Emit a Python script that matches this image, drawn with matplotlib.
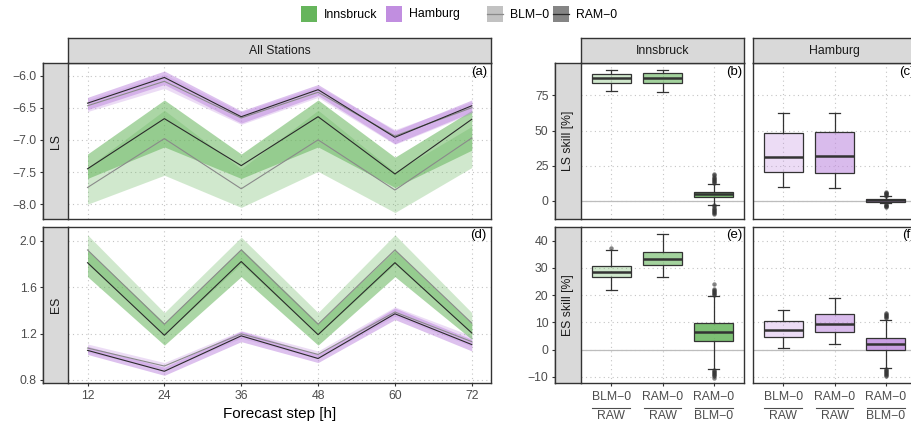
import matplotlib
matplotlib.use("Agg")
import matplotlib.pyplot as plt
from matplotlib.patches import Rectangle
from matplotlib.lines import Line2D
from matplotlib.colors import to_rgba
import numpy as np

plt.rcParams['font.family'] = ['Liberation Sans', 'DejaVu Sans']

# ---------------- data ----------------
steps = [12, 24, 36, 48, 60, 72]

# LS, Innsbruck
inn_ls_ram = [-7.45, -6.67, -7.40, -6.64, -7.53, -6.68]
inn_ls_ram_lo = [-7.60, -7.11, -7.60, -7.11, -7.74, -7.16]
inn_ls_ram_hi = [-7.22, -6.38, -7.22, -6.38, -7.27, -6.54]
inn_ls_blm = [-7.74, -6.98, -7.76, -7.00, -7.78, -6.97]
inn_ls_blm_lo = [-8.00, -7.55, -8.05, -7.49, -8.13, -7.43]
inn_ls_blm_hi = [-7.43, -6.54, -7.45, -6.54, -7.50, -6.79]
# LS, Hamburg
ham_ls_ram = [-6.43, -6.03, -6.64, -6.22, -6.96, -6.47]
ham_ls_ram_lo = [-6.53, -6.14, -6.74, -6.31, -7.06, -6.57]
ham_ls_ram_hi = [-6.34, -5.93, -6.55, -6.14, -6.86, -6.38]
ham_ls_blm = [-6.47, -6.09, -6.66, -6.26, -6.94, -6.50]
ham_ls_blm_lo = [-6.56, -6.20, -6.76, -6.34, -7.07, -6.59]
ham_ls_blm_hi = [-6.38, -5.98, -6.57, -6.17, -6.84, -6.41]
# ES, Innsbruck
inn_es_ram = [1.81, 1.185, 1.82, 1.19, 1.81, 1.205]
inn_es_ram_lo = [1.69, 1.10, 1.69, 1.10, 1.69, 1.15]
inn_es_ram_hi = [1.92, 1.29, 1.93, 1.29, 1.92, 1.29]
inn_es_blm = [1.92, 1.28, 1.92, 1.28, 1.92, 1.29]
inn_es_blm_lo = [1.80, 1.19, 1.80, 1.19, 1.80, 1.20]
inn_es_blm_hi = [2.05, 1.38, 2.03, 1.38, 2.05, 1.38]
# ES, Hamburg
ham_es_ram = [1.055, 0.875, 1.18, 0.985, 1.37, 1.105]
ham_es_ram_lo = [1.02, 0.84, 1.13, 0.95, 1.32, 1.05]
ham_es_ram_hi = [1.09, 0.91, 1.22, 1.02, 1.42, 1.15]
ham_es_blm = [1.075, 0.92, 1.197, 1.02, 1.385, 1.13]
ham_es_blm_lo = [1.04, 0.885, 1.16, 0.985, 1.35, 1.09]
ham_es_blm_hi = [1.11, 0.95, 1.225, 1.05, 1.43, 1.18]

# skill box plots: (whislo, q1, median, q3, whishi)
comp_num = ["BLM\u22120", "RAM\u22120", "RAM\u22120"]
comp_den = ["RAW", "RAW", "BLM\u22120"]

inn_ls_box = [(78.0, 83.8, 87.7, 90.5, 93.1), (77.6, 84.1, 87.7, 91.0, 93.1), (-2.6, 2.4, 4.6, 6.5, 11.9)]
inn_ls_fliers = [[], [], [12.5, 13.3, 14.1, 14.9, 15.7, 16.5, 17.3, 18.1, 18.8,
                         -3.2, -4.0, -4.8, -5.6, -6.4, -7.2, -8.0, -8.8, -9.5]]
ham_ls_box = [(9.6, 20.8, 31.5, 48.3, 62.6), (9.4, 20.0, 32.0, 49.0, 62.6), (-1.8, -0.7, 0.5, 1.4, 3.2)]
ham_ls_fliers = [[], [], [3.8, 4.3, 4.8, 5.3, 5.8, 6.3, -2.4, -2.9, -3.4, -3.9, -4.4]]
inn_es_box = [(22.0, 26.7, 28.6, 30.6, 36.5), (26.6, 31.1, 33.1, 35.8, 42.3), (-7.0, 3.2, 6.5, 9.8, 19.6)]
inn_es_fliers = [[37.4], [], [20.0, 20.4, 20.8, 21.2, 21.6, 22.0, 22.4, 24.2,
                             -7.4, -7.8, -8.2, -8.6, -9.0, -9.4, -9.8, -10.2]]
ham_es_box = [(0.8, 4.7, 7.4, 10.4, 14.7), (2.1, 6.4, 9.3, 13.1, 19.0), (-6.7, 0.0, 2.2, 4.3, 11.0)]
ham_es_fliers = [[], [], [11.5, 11.9, 12.3, 12.7, 13.1, 13.5,
                          -7.0, -7.4, -7.8, -8.2, -8.6, -9.0, -9.4, -9.8]]

# ---------------- styling ----------------
W, H = 911, 425
GREEN = '#66b55c'
PURPLE = '#c18ee0'
STRIP = '#d9d9d9'
FRAME = '#333333'
TICKC = '#4d4d4d'
GRIDC = '#c4c4c4'
FS = 8.8

fig = plt.figure(figsize=(W / 100, H / 100), dpi=100)


def rect(x0, y0, x1, y1):
    return [x0 / W, 1 - y1 / H, (x1 - x0) / W, (y1 - y0) / H]


def style_panel(ax):
    ax.set_facecolor('white')
    for s in ax.spines.values():
        s.set_color(FRAME)
        s.set_linewidth(1.0)
    ax.grid(True, color=GRIDC, linestyle=(0, (1, 3)), linewidth=0.8)
    ax.set_axisbelow(True)
    ax.tick_params(colors=FRAME, labelcolor=TICKC, labelsize=FS, length=2.2,
                   width=0.8, pad=2.5)


def strip(box, text, rotation=0):
    s = fig.add_axes(rect(*box))
    s.set_facecolor(STRIP)
    s.set_xticks([])
    s.set_yticks([])
    for sp in s.spines.values():
        sp.set_color(FRAME)
        sp.set_linewidth(1.0)
    s.text(0.5, 0.5, text, ha='center', va='center', rotation=rotation,
           fontsize=FS, color='#1a1a1a', transform=s.transAxes)
    return s


def tag(ax, s):
    ax.text(0.99, 0.985, s, transform=ax.transAxes, ha='right', va='top',
            fontsize=9.5, color='black', zorder=10)


# pixel geometry
LX0, LX1 = 68.3, 491.0
RX = [(580.7, 744.3), (752.7, 916.3)]
TOP_Y = (63.3, 219.0)
BOT_Y = (226.7, 383.0)

# ---------------- left panels ----------------
axA = fig.add_axes(rect(LX0, TOP_Y[0], LX1, TOP_Y[1]))
axD = fig.add_axes(rect(LX0, BOT_Y[0], LX1, BOT_Y[1]))


def draw_lines(ax, groups):
    for (m_blm, lo_blm, hi_blm, m_ram, lo_ram, hi_ram, col) in groups:
        ax.fill_between(steps, lo_blm, hi_blm, color=col, alpha=0.3, lw=0)
    for (m_blm, lo_blm, hi_blm, m_ram, lo_ram, hi_ram, col) in groups:
        ax.fill_between(steps, lo_ram, hi_ram, color=col, alpha=0.55, lw=0)
    for (m_blm, lo_blm, hi_blm, m_ram, lo_ram, hi_ram, col) in groups:
        ax.plot(steps, m_blm, color='#8a8a8a', lw=0.8)
        ax.plot(steps, m_ram, color='#2b2b2b', lw=0.8)


draw_lines(axA, [
    (inn_ls_blm, inn_ls_blm_lo, inn_ls_blm_hi, inn_ls_ram, inn_ls_ram_lo, inn_ls_ram_hi, GREEN),
    (ham_ls_blm, ham_ls_blm_lo, ham_ls_blm_hi, ham_ls_ram, ham_ls_ram_lo, ham_ls_ram_hi, PURPLE),
])
draw_lines(axD, [
    (inn_es_blm, inn_es_blm_lo, inn_es_blm_hi, inn_es_ram, inn_es_ram_lo, inn_es_ram_hi, GREEN),
    (ham_es_blm, ham_es_blm_lo, ham_es_blm_hi, ham_es_ram, ham_es_ram_lo, ham_es_ram_hi, PURPLE),
])

for ax in (axA, axD):
    style_panel(ax)
    ax.set_xlim(9, 75)
    ax.set_xticks(steps)
    ax.spines['left'].set_position(('outward', 18))

axA.set_ylim(-8.23, -5.81)
axA.set_yticks([-8.0, -7.5, -7.0, -6.5, -6.0])
axA.set_yticklabels(['\u22128.0', '\u22127.5', '\u22127.0', '\u22126.5', '\u22126.0'])
axA.tick_params(axis='x', length=0, labelbottom=False)
axD.set_ylim(0.774, 2.12)
axD.set_yticks([0.8, 1.2, 1.6, 2.0])
axD.set_yticklabels(['0.8', '1.2', '1.6', '2.0'])
axD.set_xticklabels([str(s) for s in steps])
axD.set_xlabel('Forecast step [h]', fontsize=11, color='black', labelpad=4)
tag(axA, '(a)')
tag(axD, '(d)')

strip((LX0, 38.3, LX1, TOP_Y[0]), 'All Stations')
strip((43.3, TOP_Y[0], LX0, TOP_Y[1]), 'LS', rotation=90)
strip((43.3, BOT_Y[0], LX0, BOT_Y[1]), 'ES', rotation=90)

# ---------------- right panels ----------------
box_alphas = [0.3, 0.6, 0.85]


def draw_boxes(ax, boxes, fliers, col):
    stats = []
    for (wl, q1, md, q3, wh), fl in zip(boxes, fliers):
        stats.append(dict(whislo=wl, q1=q1, med=md, q3=q3, whishi=wh, fliers=fl))
    ax.axhline(0, color='#bdbdbd', lw=0.9, zorder=1)
    bp = ax.bxp(stats, positions=[1, 2, 3], widths=0.75, patch_artist=True,
                showfliers=True, capwidths=0.22, manage_ticks=False,
                boxprops=dict(edgecolor=FRAME, linewidth=0.9),
                medianprops=dict(color=FRAME, linewidth=1.8),
                whiskerprops=dict(color=FRAME, linewidth=0.9),
                capprops=dict(color=FRAME, linewidth=0.9),
                flierprops=dict(marker='o', markersize=3.2, markerfacecolor=FRAME,
                                markeredgecolor='none', alpha=0.6))
    for b, a in zip(bp['boxes'], box_alphas):
        b.set_facecolor(to_rgba(col, a))
        b.set_zorder(3)
    for key in ('medians', 'whiskers', 'caps', 'fliers'):
        for art in bp[key]:
            art.set_zorder(4)


axes_r = {}
for row, (ylims, yticks, ydat) in enumerate([
        ((-12.9, 97.9), [0, 25, 50, 75], [(inn_ls_box, inn_ls_fliers), (ham_ls_box, ham_ls_fliers)]),
        ((-12.2, 45.1), [-10, 0, 10, 20, 30, 40], [(inn_es_box, inn_es_fliers), (ham_es_box, ham_es_fliers)])]):
    yb = TOP_Y if row == 0 else BOT_Y
    for colidx, (x0, x1) in enumerate(RX):
        ax = fig.add_axes(rect(x0, yb[0], x1, yb[1]))
        style_panel(ax)
        boxes, fl = ydat[colidx]
        draw_boxes(ax, boxes, fl, GREEN if colidx == 0 else PURPLE)
        ax.set_xlim(0.4, 3.6)
        ax.set_ylim(*ylims)
        ax.set_xticks([1, 2, 3])
        ax.set_yticks(yticks)
        if colidx == 0:
            ax.spines['left'].set_position(('outward', 18.5))
            ax.set_yticklabels([('\u2212' + str(-t)) if t < 0 else str(t) for t in yticks])
        else:
            ax.tick_params(axis='y', length=0, labelleft=False)
        if row == 0:
            ax.tick_params(axis='x', length=0, labelbottom=False)
        else:
            ax.set_xticklabels([])
            tr = ax.get_xaxis_transform()
            for i in range(3):
                ax.text(i + 1, -0.088, comp_num[i], transform=tr, ha='center', va='center',
                        fontsize=FS, color=TICKC, clip_on=False)
                ax.plot([i + 1 - 0.37, i + 1 + 0.37], [-0.158, -0.158], transform=tr,
                        color=TICKC, lw=0.8, clip_on=False)
                ax.text(i + 1, -0.212, comp_den[i], transform=tr, ha='center', va='center',
                        fontsize=FS, color=TICKC, clip_on=False)
        axes_r[(row, colidx)] = ax

tag(axes_r[(0, 0)], '(b)')
tag(axes_r[(0, 1)], '(c)')
tag(axes_r[(1, 0)], '(e)')
tag(axes_r[(1, 1)], '(f)')

strip((RX[0][0], 38.3, RX[0][1], TOP_Y[0]), 'Innsbruck')
strip((RX[1][0], 38.3, RX[1][1], TOP_Y[0]), 'Hamburg')
strip((555.0, TOP_Y[0], RX[0][0], TOP_Y[1]), 'LS skill [%]', rotation=90)
strip((555.0, BOT_Y[0], RX[0][0], BOT_Y[1]), 'ES skill [%]', rotation=90)

# ---------------- legend ----------------
legend_fill = [('Innsbruck', GREEN, None, 301, 324), ('Hamburg', PURPLE, None, 385.5, 409),
               ('BLM\u22120', '#c2c2c2', '#8a8a8a', 487, 510), ('RAM\u22120', '#858585', '#2b2b2b', 553, 576)]
ky0, ky1 = 6.5, 22.0
for label, fc, lc, kx, tx in legend_fill:
    fig.add_artist(Rectangle((kx / W, 1 - ky1 / H), 16 / W, (ky1 - ky0) / H,
                             transform=fig.transFigure, facecolor=fc, edgecolor='none'))
    if lc is not None:
        ym = 1 - (ky0 + ky1) / 2 / H
        fig.add_artist(Line2D([kx / W, (kx + 16) / W], [ym, ym], transform=fig.transFigure,
                              color=lc, lw=0.9))
    fig.text(tx / W, 1 - 14.5 / H, label, ha='left', va='center', fontsize=FS, color='black')

fig.savefig('out.png', dpi=100)
